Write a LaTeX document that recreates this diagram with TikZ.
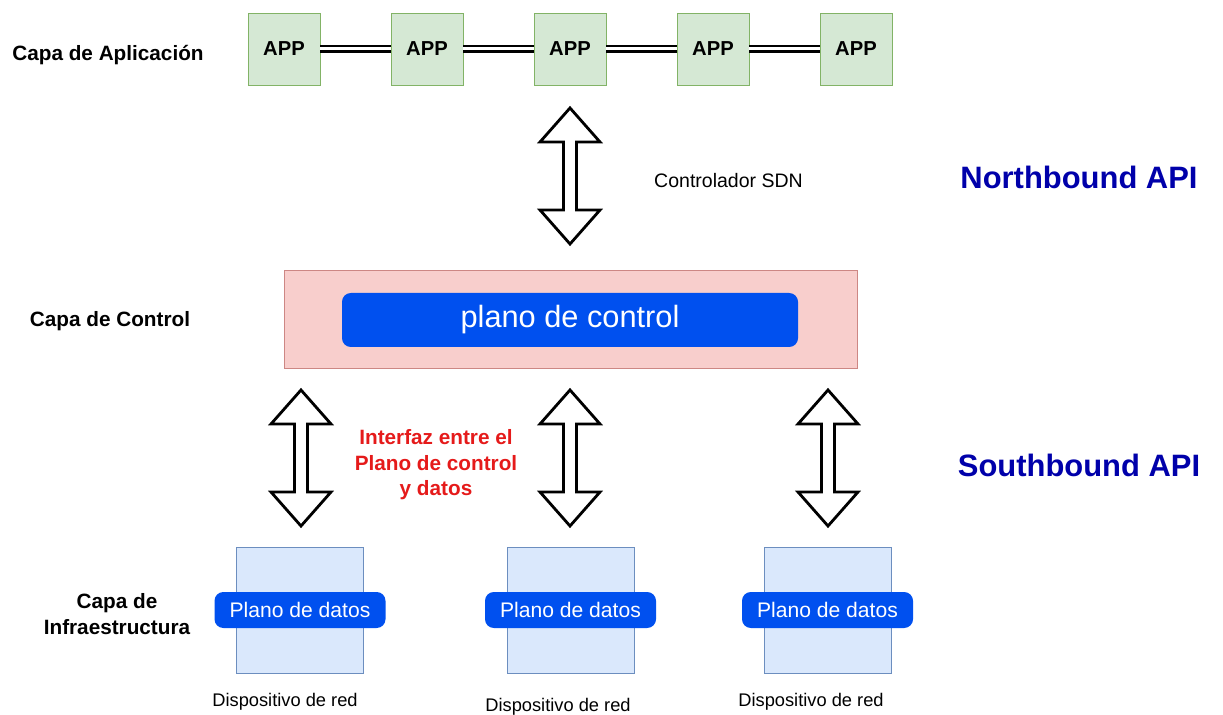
\documentclass[tikz,border=0pt]{standalone}
\usepackage{fontspec}
\setmainfont{Liberation Sans}
\usepackage{tikz}
\usetikzlibrary{positioning}

\definecolor{appfill}{HTML}{D5E8D4}
\definecolor{appline}{HTML}{82B366}
\definecolor{ctrlfill}{HTML}{F8CECC}
\definecolor{ctrlline}{HTML}{B85450}
\definecolor{planoblue}{HTML}{0050EF}
\definecolor{devfill}{HTML}{DAE8FC}
\definecolor{devline}{HTML}{6C8EBF}
\definecolor{apiblue}{HTML}{0000AA}
\definecolor{ifred}{HTML}{E51A1A}

\tikzset{
  biarrow/.pic={
    \draw[line width=1.6pt, line join=miter, fill=white]
      (0,1.36) -- (0.6,0.68) -- (0.13,0.68) -- (0.13,-0.68) -- (0.6,-0.68)
      -- (0,-1.36) -- (-0.6,-0.68) -- (-0.13,-0.68) -- (-0.13,0.68)
      -- (-0.6,0.68) -- cycle;
  }
}

\begin{document}
\begin{tikzpicture}[
    app/.style={draw=appline, fill=appfill, minimum width=1.44cm, minimum height=1.44cm,
      inner sep=0pt, font=\fontsize{11.5}{13}\selectfont\bfseries},
    link/.style={draw, line width=1.5pt, double distance=1.7pt},
    layer/.style={font=\fontsize{11.8}{14.5}\selectfont\bfseries, align=center},
    api/.style={text=apiblue, font=\fontsize{17.6}{20}\selectfont\bfseries},
    plane/.style={fill=planoblue, text=white, rounded corners=5pt, inner sep=0pt},
    device/.style={draw=devline, fill=devfill, minimum width=2.54cm, minimum height=2.52cm},
    devlabel/.style={font=\fontsize{10.4}{12}\selectfont}
    ]
    \useasboundingbox (0,0) rectangle (24.46,-14.3);

    % application layer
    \foreach \i in {1,...,5}
      \node[app] (app\i) at ({5.68+2.86*(\i-1)},-0.98) {APP};
    \foreach \i/\j in {1/2,2/3,3/4,4/5}
      \draw[link] (app\i) -- (app\j);
    \node[layer] (capaapp) at (2.16,-1.1) {Capa de Aplicación};

    % northbound
    \pic (nbarrow) at (11.40,-3.52) {biarrow};
    \node[font=\fontsize{11.1}{13}\selectfont] (sdn) at (14.57,-3.62) {Controlador SDN};
    \node[api] (north) at (21.58,-3.54) {Northbound API};

    % control layer
    \node[draw=ctrlline!70, fill=ctrlfill, minimum width=11.46cm, minimum height=1.96cm]
      (ctrl) at (11.41,-6.38) {};
    \node[plane, minimum width=9.12cm, minimum height=1.08cm,
      font=\fontsize{17.5}{20}\selectfont] (plano) at (11.40,-6.4) {plano de control};
    \node[layer] (capactrl) at (2.2,-6.42) {Capa de Control};

    % southbound
    \pic (sbarrow1) at (6.02,-9.16) {biarrow};
    \pic (sbarrow2) at (11.40,-9.16) {biarrow};
    \pic (sbarrow3) at (16.56,-9.16) {biarrow};
    \node[layer, text=ifred] (interfaz) at (8.72,-9.3)
      {Interfaz entre el\\Plano de control\\y datos};
    \node[api] (south) at (21.58,-9.3) {Southbound API};

    % infrastructure layer
    \foreach \i/\x in {1/6.00,2/11.41,3/16.55} {
      \node[device] (dev\i) at (\x,-12.2) {};
      \node[plane, minimum width=3.42cm, minimum height=0.72cm,
        font=\fontsize{12}{14}\selectfont] (datos\i) at (dev\i) {Plano de datos};
    }
    \node[devlabel] (red1) at (5.70,-14.04) {Dispositivo de red};
    \node[devlabel] (red2) at (11.16,-14.14) {Dispositivo de red};
    \node[devlabel] (red3) at (16.22,-14.04) {Dispositivo de red};
    \node[layer] (capainfra) at (2.34,-12.28) {Capa de\\Infraestructura};
  \end{tikzpicture}
\end{document}
